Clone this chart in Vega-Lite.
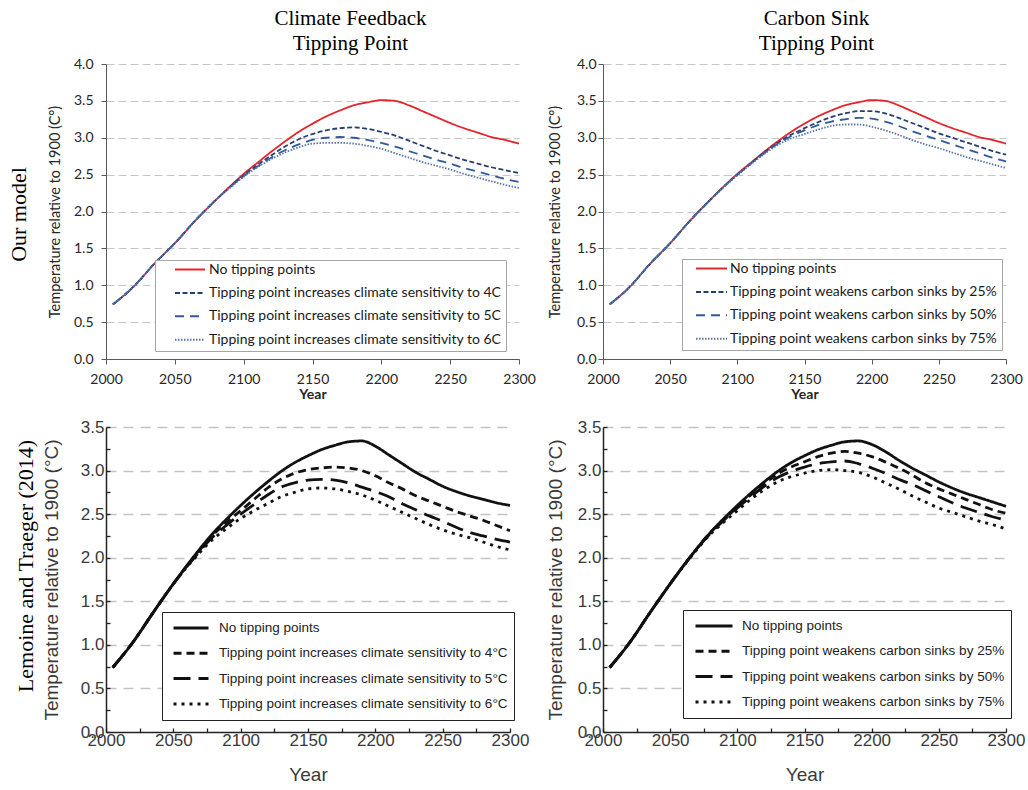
{
"$schema":"https://vega.github.io/schema/vega-lite/v6.json",
"background":"white",
"padding":{"left":8,"top":8,"right":0,"bottom":0},
"spacing":17,
"config":{"view":{"stroke":null}},
"resolve":{"scale":{"x":"independent","y":"independent","color":"independent","strokeDash":"independent"},"axis":{"x":"independent","y":"independent"},"legend":{"color":"independent","strokeDash":"independent"}},
"datasets":{
"names":[
{"s":"n","name":"No tipping points"},
{"s":"c4","name":"Tipping point increases climate sensitivity to 4C"},
{"s":"c5","name":"Tipping point increases climate sensitivity to 5C"},
{"s":"c6","name":"Tipping point increases climate sensitivity to 6C"},
{"s":"d4","name":"Tipping point increases climate sensitivity to 4°C"},
{"s":"d5","name":"Tipping point increases climate sensitivity to 5°C"},
{"s":"d6","name":"Tipping point increases climate sensitivity to 6°C"},
{"s":"k25","name":"Tipping point weakens carbon sinks by 25%"},
{"s":"k50","name":"Tipping point weakens carbon sinks by 50%"},
{"s":"k75","name":"Tipping point weakens carbon sinks by 75%"}
],
"tl":[
{"s":"n","x":2005,"y":0.74},{"s":"n","x":2020,"y":0.98},{"s":"n","x":2035,"y":1.29},{"s":"n","x":2050,"y":1.57},{"s":"n","x":2065,"y":1.88},{"s":"n","x":2080,"y":2.16},{"s":"n","x":2090,"y":2.34},{"s":"n","x":2100,"y":2.51},{"s":"n","x":2110,"y":2.66},{"s":"n","x":2120,"y":2.81},{"s":"n","x":2130,"y":2.95},{"s":"n","x":2140,"y":3.08},{"s":"n","x":2150,"y":3.19},{"s":"n","x":2160,"y":3.29},{"s":"n","x":2170,"y":3.37},{"s":"n","x":2180,"y":3.44},{"s":"n","x":2190,"y":3.48},{"s":"n","x":2200,"y":3.51},{"s":"n","x":2210,"y":3.5},{"s":"n","x":2220,"y":3.44},{"s":"n","x":2230,"y":3.36},{"s":"n","x":2240,"y":3.28},{"s":"n","x":2250,"y":3.2},{"s":"n","x":2260,"y":3.13},{"s":"n","x":2270,"y":3.07},{"s":"n","x":2280,"y":3.01},{"s":"n","x":2290,"y":2.97},{"s":"n","x":2300,"y":2.92},
{"s":"c4","x":2005,"y":0.74},{"s":"c4","x":2020,"y":0.98},{"s":"c4","x":2035,"y":1.29},{"s":"c4","x":2050,"y":1.57},{"s":"c4","x":2065,"y":1.88},{"s":"c4","x":2080,"y":2.16},{"s":"c4","x":2090,"y":2.33},{"s":"c4","x":2100,"y":2.49},{"s":"c4","x":2110,"y":2.63},{"s":"c4","x":2120,"y":2.76},{"s":"c4","x":2130,"y":2.88},{"s":"c4","x":2140,"y":2.98},{"s":"c4","x":2150,"y":3.05},{"s":"c4","x":2160,"y":3.1},{"s":"c4","x":2170,"y":3.13},{"s":"c4","x":2180,"y":3.14},{"s":"c4","x":2190,"y":3.12},{"s":"c4","x":2200,"y":3.08},{"s":"c4","x":2210,"y":3.03},{"s":"c4","x":2220,"y":2.96},{"s":"c4","x":2230,"y":2.89},{"s":"c4","x":2240,"y":2.82},{"s":"c4","x":2250,"y":2.76},{"s":"c4","x":2260,"y":2.7},{"s":"c4","x":2270,"y":2.65},{"s":"c4","x":2280,"y":2.6},{"s":"c4","x":2290,"y":2.56},{"s":"c4","x":2300,"y":2.52},
{"s":"c5","x":2005,"y":0.74},{"s":"c5","x":2020,"y":0.98},{"s":"c5","x":2035,"y":1.29},{"s":"c5","x":2050,"y":1.57},{"s":"c5","x":2065,"y":1.88},{"s":"c5","x":2080,"y":2.16},{"s":"c5","x":2090,"y":2.33},{"s":"c5","x":2100,"y":2.48},{"s":"c5","x":2110,"y":2.61},{"s":"c5","x":2120,"y":2.73},{"s":"c5","x":2130,"y":2.83},{"s":"c5","x":2140,"y":2.91},{"s":"c5","x":2150,"y":2.97},{"s":"c5","x":2160,"y":3.0},{"s":"c5","x":2170,"y":3.01},{"s":"c5","x":2180,"y":3.0},{"s":"c5","x":2190,"y":2.97},{"s":"c5","x":2200,"y":2.93},{"s":"c5","x":2210,"y":2.88},{"s":"c5","x":2220,"y":2.82},{"s":"c5","x":2230,"y":2.76},{"s":"c5","x":2240,"y":2.7},{"s":"c5","x":2250,"y":2.65},{"s":"c5","x":2260,"y":2.59},{"s":"c5","x":2270,"y":2.54},{"s":"c5","x":2280,"y":2.49},{"s":"c5","x":2290,"y":2.44},{"s":"c5","x":2300,"y":2.4},
{"s":"c6","x":2005,"y":0.74},{"s":"c6","x":2020,"y":0.98},{"s":"c6","x":2035,"y":1.29},{"s":"c6","x":2050,"y":1.57},{"s":"c6","x":2065,"y":1.88},{"s":"c6","x":2080,"y":2.16},{"s":"c6","x":2090,"y":2.32},{"s":"c6","x":2100,"y":2.47},{"s":"c6","x":2110,"y":2.6},{"s":"c6","x":2120,"y":2.71},{"s":"c6","x":2130,"y":2.8},{"s":"c6","x":2140,"y":2.87},{"s":"c6","x":2150,"y":2.92},{"s":"c6","x":2160,"y":2.93},{"s":"c6","x":2170,"y":2.93},{"s":"c6","x":2180,"y":2.92},{"s":"c6","x":2190,"y":2.89},{"s":"c6","x":2200,"y":2.85},{"s":"c6","x":2210,"y":2.79},{"s":"c6","x":2220,"y":2.73},{"s":"c6","x":2230,"y":2.67},{"s":"c6","x":2240,"y":2.62},{"s":"c6","x":2250,"y":2.57},{"s":"c6","x":2260,"y":2.51},{"s":"c6","x":2270,"y":2.46},{"s":"c6","x":2280,"y":2.41},{"s":"c6","x":2290,"y":2.36},{"s":"c6","x":2300,"y":2.32}
],
"tr":[
{"s":"n","x":2005,"y":0.74},{"s":"n","x":2020,"y":0.98},{"s":"n","x":2035,"y":1.29},{"s":"n","x":2050,"y":1.57},{"s":"n","x":2065,"y":1.88},{"s":"n","x":2080,"y":2.16},{"s":"n","x":2090,"y":2.34},{"s":"n","x":2100,"y":2.51},{"s":"n","x":2110,"y":2.66},{"s":"n","x":2120,"y":2.81},{"s":"n","x":2130,"y":2.95},{"s":"n","x":2140,"y":3.08},{"s":"n","x":2150,"y":3.19},{"s":"n","x":2160,"y":3.29},{"s":"n","x":2170,"y":3.37},{"s":"n","x":2180,"y":3.44},{"s":"n","x":2190,"y":3.48},{"s":"n","x":2200,"y":3.51},{"s":"n","x":2210,"y":3.5},{"s":"n","x":2220,"y":3.44},{"s":"n","x":2230,"y":3.36},{"s":"n","x":2240,"y":3.28},{"s":"n","x":2250,"y":3.2},{"s":"n","x":2260,"y":3.13},{"s":"n","x":2270,"y":3.07},{"s":"n","x":2280,"y":3.01},{"s":"n","x":2290,"y":2.97},{"s":"n","x":2300,"y":2.92},
{"s":"k25","x":2005,"y":0.74},{"s":"k25","x":2020,"y":0.98},{"s":"k25","x":2035,"y":1.29},{"s":"k25","x":2050,"y":1.57},{"s":"k25","x":2065,"y":1.88},{"s":"k25","x":2080,"y":2.16},{"s":"k25","x":2090,"y":2.34},{"s":"k25","x":2100,"y":2.5},{"s":"k25","x":2110,"y":2.65},{"s":"k25","x":2120,"y":2.8},{"s":"k25","x":2130,"y":2.93},{"s":"k25","x":2140,"y":3.04},{"s":"k25","x":2150,"y":3.13},{"s":"k25","x":2160,"y":3.21},{"s":"k25","x":2170,"y":3.28},{"s":"k25","x":2180,"y":3.33},{"s":"k25","x":2190,"y":3.36},{"s":"k25","x":2200,"y":3.36},{"s":"k25","x":2210,"y":3.33},{"s":"k25","x":2220,"y":3.27},{"s":"k25","x":2230,"y":3.2},{"s":"k25","x":2240,"y":3.13},{"s":"k25","x":2250,"y":3.06},{"s":"k25","x":2260,"y":3.0},{"s":"k25","x":2270,"y":2.94},{"s":"k25","x":2280,"y":2.88},{"s":"k25","x":2290,"y":2.82},{"s":"k25","x":2300,"y":2.77},
{"s":"k50","x":2005,"y":0.74},{"s":"k50","x":2020,"y":0.98},{"s":"k50","x":2035,"y":1.29},{"s":"k50","x":2050,"y":1.57},{"s":"k50","x":2065,"y":1.88},{"s":"k50","x":2080,"y":2.16},{"s":"k50","x":2090,"y":2.34},{"s":"k50","x":2100,"y":2.5},{"s":"k50","x":2110,"y":2.65},{"s":"k50","x":2120,"y":2.79},{"s":"k50","x":2130,"y":2.92},{"s":"k50","x":2140,"y":3.02},{"s":"k50","x":2150,"y":3.1},{"s":"k50","x":2160,"y":3.17},{"s":"k50","x":2170,"y":3.22},{"s":"k50","x":2180,"y":3.25},{"s":"k50","x":2190,"y":3.27},{"s":"k50","x":2200,"y":3.26},{"s":"k50","x":2210,"y":3.22},{"s":"k50","x":2220,"y":3.16},{"s":"k50","x":2230,"y":3.09},{"s":"k50","x":2240,"y":3.03},{"s":"k50","x":2250,"y":2.97},{"s":"k50","x":2260,"y":2.91},{"s":"k50","x":2270,"y":2.85},{"s":"k50","x":2280,"y":2.79},{"s":"k50","x":2290,"y":2.73},{"s":"k50","x":2300,"y":2.68},
{"s":"k75","x":2005,"y":0.74},{"s":"k75","x":2020,"y":0.98},{"s":"k75","x":2035,"y":1.29},{"s":"k75","x":2050,"y":1.57},{"s":"k75","x":2065,"y":1.88},{"s":"k75","x":2080,"y":2.16},{"s":"k75","x":2090,"y":2.33},{"s":"k75","x":2100,"y":2.49},{"s":"k75","x":2110,"y":2.64},{"s":"k75","x":2120,"y":2.78},{"s":"k75","x":2130,"y":2.9},{"s":"k75","x":2140,"y":2.99},{"s":"k75","x":2150,"y":3.05},{"s":"k75","x":2160,"y":3.11},{"s":"k75","x":2170,"y":3.16},{"s":"k75","x":2180,"y":3.18},{"s":"k75","x":2190,"y":3.18},{"s":"k75","x":2200,"y":3.15},{"s":"k75","x":2210,"y":3.1},{"s":"k75","x":2220,"y":3.04},{"s":"k75","x":2230,"y":2.97},{"s":"k75","x":2240,"y":2.91},{"s":"k75","x":2250,"y":2.86},{"s":"k75","x":2260,"y":2.8},{"s":"k75","x":2270,"y":2.74},{"s":"k75","x":2280,"y":2.69},{"s":"k75","x":2290,"y":2.64},{"s":"k75","x":2300,"y":2.59}
],
"bl":[
{"s":"n","x":2005,"y":0.74},{"s":"n","x":2020,"y":1.03},{"s":"n","x":2035,"y":1.37},{"s":"n","x":2050,"y":1.7},{"s":"n","x":2065,"y":2.01},{"s":"n","x":2080,"y":2.29},{"s":"n","x":2090,"y":2.45},{"s":"n","x":2100,"y":2.6},{"s":"n","x":2110,"y":2.74},{"s":"n","x":2120,"y":2.87},{"s":"n","x":2130,"y":2.99},{"s":"n","x":2140,"y":3.09},{"s":"n","x":2150,"y":3.17},{"s":"n","x":2160,"y":3.24},{"s":"n","x":2170,"y":3.29},{"s":"n","x":2180,"y":3.33},{"s":"n","x":2190,"y":3.34},{"s":"n","x":2200,"y":3.28},{"s":"n","x":2210,"y":3.18},{"s":"n","x":2220,"y":3.08},{"s":"n","x":2230,"y":2.98},{"s":"n","x":2240,"y":2.9},{"s":"n","x":2250,"y":2.82},{"s":"n","x":2260,"y":2.76},{"s":"n","x":2270,"y":2.71},{"s":"n","x":2280,"y":2.67},{"s":"n","x":2290,"y":2.63},{"s":"n","x":2300,"y":2.6},
{"s":"d4","x":2005,"y":0.74},{"s":"d4","x":2020,"y":1.03},{"s":"d4","x":2035,"y":1.37},{"s":"d4","x":2050,"y":1.7},{"s":"d4","x":2065,"y":2.0},{"s":"d4","x":2080,"y":2.27},{"s":"d4","x":2090,"y":2.41},{"s":"d4","x":2100,"y":2.54},{"s":"d4","x":2110,"y":2.67},{"s":"d4","x":2120,"y":2.8},{"s":"d4","x":2130,"y":2.9},{"s":"d4","x":2140,"y":2.97},{"s":"d4","x":2150,"y":3.01},{"s":"d4","x":2160,"y":3.03},{"s":"d4","x":2170,"y":3.04},{"s":"d4","x":2180,"y":3.03},{"s":"d4","x":2190,"y":3.0},{"s":"d4","x":2200,"y":2.94},{"s":"d4","x":2210,"y":2.86},{"s":"d4","x":2220,"y":2.79},{"s":"d4","x":2230,"y":2.71},{"s":"d4","x":2240,"y":2.65},{"s":"d4","x":2250,"y":2.59},{"s":"d4","x":2260,"y":2.53},{"s":"d4","x":2270,"y":2.48},{"s":"d4","x":2280,"y":2.43},{"s":"d4","x":2290,"y":2.37},{"s":"d4","x":2300,"y":2.31},
{"s":"d5","x":2005,"y":0.74},{"s":"d5","x":2020,"y":1.03},{"s":"d5","x":2035,"y":1.37},{"s":"d5","x":2050,"y":1.7},{"s":"d5","x":2065,"y":1.99},{"s":"d5","x":2080,"y":2.25},{"s":"d5","x":2090,"y":2.38},{"s":"d5","x":2100,"y":2.5},{"s":"d5","x":2110,"y":2.61},{"s":"d5","x":2120,"y":2.72},{"s":"d5","x":2130,"y":2.81},{"s":"d5","x":2140,"y":2.86},{"s":"d5","x":2150,"y":2.89},{"s":"d5","x":2160,"y":2.9},{"s":"d5","x":2170,"y":2.89},{"s":"d5","x":2180,"y":2.86},{"s":"d5","x":2190,"y":2.81},{"s":"d5","x":2200,"y":2.76},{"s":"d5","x":2210,"y":2.7},{"s":"d5","x":2220,"y":2.62},{"s":"d5","x":2230,"y":2.55},{"s":"d5","x":2240,"y":2.48},{"s":"d5","x":2250,"y":2.42},{"s":"d5","x":2260,"y":2.35},{"s":"d5","x":2270,"y":2.29},{"s":"d5","x":2280,"y":2.25},{"s":"d5","x":2290,"y":2.21},{"s":"d5","x":2300,"y":2.18},
{"s":"d6","x":2005,"y":0.74},{"s":"d6","x":2020,"y":1.03},{"s":"d6","x":2035,"y":1.37},{"s":"d6","x":2050,"y":1.7},{"s":"d6","x":2065,"y":1.98},{"s":"d6","x":2080,"y":2.22},{"s":"d6","x":2090,"y":2.34},{"s":"d6","x":2100,"y":2.45},{"s":"d6","x":2110,"y":2.54},{"s":"d6","x":2120,"y":2.62},{"s":"d6","x":2130,"y":2.7},{"s":"d6","x":2140,"y":2.75},{"s":"d6","x":2150,"y":2.79},{"s":"d6","x":2160,"y":2.8},{"s":"d6","x":2170,"y":2.79},{"s":"d6","x":2180,"y":2.76},{"s":"d6","x":2190,"y":2.72},{"s":"d6","x":2200,"y":2.66},{"s":"d6","x":2210,"y":2.59},{"s":"d6","x":2220,"y":2.52},{"s":"d6","x":2230,"y":2.45},{"s":"d6","x":2240,"y":2.38},{"s":"d6","x":2250,"y":2.32},{"s":"d6","x":2260,"y":2.27},{"s":"d6","x":2270,"y":2.23},{"s":"d6","x":2280,"y":2.18},{"s":"d6","x":2290,"y":2.13},{"s":"d6","x":2300,"y":2.09}
],
"br":[
{"s":"n","x":2005,"y":0.74},{"s":"n","x":2020,"y":1.03},{"s":"n","x":2035,"y":1.37},{"s":"n","x":2050,"y":1.7},{"s":"n","x":2065,"y":2.01},{"s":"n","x":2080,"y":2.29},{"s":"n","x":2090,"y":2.45},{"s":"n","x":2100,"y":2.6},{"s":"n","x":2110,"y":2.74},{"s":"n","x":2120,"y":2.87},{"s":"n","x":2130,"y":2.99},{"s":"n","x":2140,"y":3.09},{"s":"n","x":2150,"y":3.17},{"s":"n","x":2160,"y":3.24},{"s":"n","x":2170,"y":3.29},{"s":"n","x":2180,"y":3.33},{"s":"n","x":2190,"y":3.34},{"s":"n","x":2200,"y":3.3},{"s":"n","x":2210,"y":3.22},{"s":"n","x":2220,"y":3.12},{"s":"n","x":2230,"y":3.03},{"s":"n","x":2240,"y":2.95},{"s":"n","x":2250,"y":2.87},{"s":"n","x":2260,"y":2.8},{"s":"n","x":2270,"y":2.74},{"s":"n","x":2280,"y":2.69},{"s":"n","x":2290,"y":2.64},{"s":"n","x":2300,"y":2.59},
{"s":"k25","x":2005,"y":0.74},{"s":"k25","x":2020,"y":1.03},{"s":"k25","x":2035,"y":1.37},{"s":"k25","x":2050,"y":1.7},{"s":"k25","x":2065,"y":2.01},{"s":"k25","x":2080,"y":2.29},{"s":"k25","x":2090,"y":2.44},{"s":"k25","x":2100,"y":2.58},{"s":"k25","x":2110,"y":2.72},{"s":"k25","x":2120,"y":2.85},{"s":"k25","x":2130,"y":2.96},{"s":"k25","x":2140,"y":3.04},{"s":"k25","x":2150,"y":3.1},{"s":"k25","x":2160,"y":3.16},{"s":"k25","x":2170,"y":3.2},{"s":"k25","x":2180,"y":3.22},{"s":"k25","x":2190,"y":3.2},{"s":"k25","x":2200,"y":3.16},{"s":"k25","x":2210,"y":3.1},{"s":"k25","x":2220,"y":3.03},{"s":"k25","x":2230,"y":2.95},{"s":"k25","x":2240,"y":2.86},{"s":"k25","x":2250,"y":2.79},{"s":"k25","x":2260,"y":2.73},{"s":"k25","x":2270,"y":2.67},{"s":"k25","x":2280,"y":2.61},{"s":"k25","x":2290,"y":2.55},{"s":"k25","x":2300,"y":2.51},
{"s":"k50","x":2005,"y":0.74},{"s":"k50","x":2020,"y":1.03},{"s":"k50","x":2035,"y":1.37},{"s":"k50","x":2050,"y":1.7},{"s":"k50","x":2065,"y":2.01},{"s":"k50","x":2080,"y":2.28},{"s":"k50","x":2090,"y":2.43},{"s":"k50","x":2100,"y":2.57},{"s":"k50","x":2110,"y":2.7},{"s":"k50","x":2120,"y":2.82},{"s":"k50","x":2130,"y":2.92},{"s":"k50","x":2140,"y":2.99},{"s":"k50","x":2150,"y":3.04},{"s":"k50","x":2160,"y":3.08},{"s":"k50","x":2170,"y":3.1},{"s":"k50","x":2180,"y":3.11},{"s":"k50","x":2190,"y":3.08},{"s":"k50","x":2200,"y":3.03},{"s":"k50","x":2210,"y":2.97},{"s":"k50","x":2220,"y":2.9},{"s":"k50","x":2230,"y":2.84},{"s":"k50","x":2240,"y":2.77},{"s":"k50","x":2250,"y":2.7},{"s":"k50","x":2260,"y":2.63},{"s":"k50","x":2270,"y":2.57},{"s":"k50","x":2280,"y":2.52},{"s":"k50","x":2290,"y":2.47},{"s":"k50","x":2300,"y":2.43},
{"s":"k75","x":2005,"y":0.74},{"s":"k75","x":2020,"y":1.03},{"s":"k75","x":2035,"y":1.37},{"s":"k75","x":2050,"y":1.7},{"s":"k75","x":2065,"y":2.0},{"s":"k75","x":2080,"y":2.27},{"s":"k75","x":2090,"y":2.41},{"s":"k75","x":2100,"y":2.54},{"s":"k75","x":2110,"y":2.67},{"s":"k75","x":2120,"y":2.78},{"s":"k75","x":2130,"y":2.87},{"s":"k75","x":2140,"y":2.93},{"s":"k75","x":2150,"y":2.97},{"s":"k75","x":2160,"y":3.0},{"s":"k75","x":2170,"y":3.01},{"s":"k75","x":2180,"y":3.0},{"s":"k75","x":2190,"y":2.98},{"s":"k75","x":2200,"y":2.93},{"s":"k75","x":2210,"y":2.86},{"s":"k75","x":2220,"y":2.79},{"s":"k75","x":2230,"y":2.71},{"s":"k75","x":2240,"y":2.64},{"s":"k75","x":2250,"y":2.57},{"s":"k75","x":2260,"y":2.52},{"s":"k75","x":2270,"y":2.47},{"s":"k75","x":2280,"y":2.42},{"s":"k75","x":2290,"y":2.38},{"s":"k75","x":2300,"y":2.33}
]
},
"vconcat":[
{
"spacing":11,
"title":{"text":"Our model","orient":"left","anchor":"middle","frame":"bounds","font":"Liberation Serif","fontSize":22,"fontWeight":"normal","color":"#000","offset":16,"dx":-10},
"resolve":{"scale":{"x":"independent","y":"independent","color":"independent","strokeDash":"independent"},"axis":{"x":"independent","y":"independent"},"legend":{"color":"independent","strokeDash":"independent"}},
"hconcat":[
{
"width":413,"height":295,
"data":{"name":"tl"},
"transform":[{"lookup":"s","from":{"data":{"name":"names"},"key":"s","fields":["name"]}}],
"title":{"text":["Climate Feedback","Tipping Point"],"font":"Liberation Serif","fontSize":21,"fontWeight":"normal","color":"#000","anchor":"middle","frame":"group","dx":38,"offset":3,"lineHeight":25},
"mark":{"type":"line","interpolate":"monotone","strokeWidth":1.8},
"encoding":{
"x":{"field":"x","type":"quantitative","scale":{"domain":[2000,2300],"nice":false,"zero":false},"axis":{"title":"Year","values":[2000,2050,2100,2150,2200,2250,2300],"format":"d","grid":false,"domainColor":"#595959","tickColor":"#595959","tickSize":5,"labelPadding":8,"labelFont":"Lato","labelFontSize":14,"labelColor":"#262626","labelFlush":false,"labelOverlap":false,"titleFont":"Lato","titleFontSize":14,"titleFontWeight":"bold","titleColor":"#262626","titlePadding":1}},
"y":{"field":"y","type":"quantitative","scale":{"domain":[0,4],"nice":false},"axis":{"title":"Temperature relative to 1900 (C°)","values":[0,0.5,1,1.5,2,2.5,3,3.5,4],"format":".1f","grid":true,"gridColor":"#c6c6c6","gridDash":[8,4],"domainColor":"#595959","tickColor":"#595959","tickSize":5,"labelPadding":8,"labelFont":"Lato","labelFontSize":14,"labelColor":"#262626","titleFont":"Lato","titleFontSize":14.5,"titleFontWeight":"normal","titleColor":"#262626","titlePadding":11}},
"color":{"field":"name","type":"nominal","scale":{"domain":["No tipping points","Tipping point increases climate sensitivity to 4C","Tipping point increases climate sensitivity to 5C","Tipping point increases climate sensitivity to 6C"],"range":["#e3242b","#263f73","#2f5b9a","#5574ab"]},"legend":{"title":null,"orient":"none","legendX":49,"legendY":196,"symbolType":"stroke","symbolSize":900,"symbolStrokeWidth":2,"symbolOffset":15,"labelOffset":3,"labelFont":"Lato","labelFontSize":14,"labelColor":"#1a1a1a","padding":4,"clipHeight":11,"rowPadding":8.4,"strokeColor":"#a6a6a6","fillColor":"white","labelLimit":400}},
"strokeDash":{"field":"name","type":"nominal","scale":{"domain":["No tipping points","Tipping point increases climate sensitivity to 4C","Tipping point increases climate sensitivity to 5C","Tipping point increases climate sensitivity to 6C"],"range":[[1,0],[5,2.5],[9,6],[1.5,1.5]]},"legend":{"title":null,"orient":"none","legendX":49,"legendY":196,"symbolType":"stroke","symbolSize":900,"symbolStrokeWidth":2,"symbolOffset":15,"labelOffset":3,"labelFont":"Lato","labelFontSize":14,"labelColor":"#1a1a1a","padding":4,"clipHeight":11,"rowPadding":8.4,"strokeColor":"#a6a6a6","fillColor":"white","labelLimit":400}}
}
},
{
"width":403,"height":295,
"data":{"name":"tr"},
"transform":[{"lookup":"s","from":{"data":{"name":"names"},"key":"s","fields":["name"]}}],
"title":{"text":["Carbon Sink","Tipping Point"],"font":"Liberation Serif","fontSize":21,"fontWeight":"normal","color":"#000","anchor":"middle","frame":"group","dx":12,"offset":3,"lineHeight":25},
"mark":{"type":"line","interpolate":"monotone","strokeWidth":1.8},
"encoding":{
"x":{"field":"x","type":"quantitative","scale":{"domain":[2000,2300],"nice":false,"zero":false},"axis":{"title":"Year","values":[2000,2050,2100,2150,2200,2250,2300],"format":"d","grid":false,"domainColor":"#595959","tickColor":"#595959","tickSize":5,"labelPadding":8,"labelFont":"Lato","labelFontSize":14,"labelColor":"#262626","labelFlush":false,"labelOverlap":false,"titleFont":"Lato","titleFontSize":14,"titleFontWeight":"bold","titleColor":"#262626","titlePadding":1}},
"y":{"field":"y","type":"quantitative","scale":{"domain":[0,4],"nice":false},"axis":{"title":"Temperature relative to 1900 (C°)","values":[0,0.5,1,1.5,2,2.5,3,3.5,4],"format":".1f","grid":true,"gridColor":"#c6c6c6","gridDash":[8,4],"domainColor":"#595959","tickColor":"#595959","tickSize":5,"labelPadding":2,"labelFont":"Lato","labelFontSize":14,"labelColor":"#262626","titleFont":"Lato","titleFontSize":14.5,"titleFontWeight":"normal","titleColor":"#262626","titlePadding":14}},
"color":{"field":"name","type":"nominal","scale":{"domain":["No tipping points","Tipping point weakens carbon sinks by 25%","Tipping point weakens carbon sinks by 50%","Tipping point weakens carbon sinks by 75%"],"range":["#e3242b","#263f73","#2f5b9a","#5574ab"]},"legend":{"title":null,"orient":"none","legendX":79,"legendY":195,"symbolType":"stroke","symbolSize":961,"symbolStrokeWidth":2,"symbolOffset":9,"labelOffset":2,"labelFont":"Lato","labelFontSize":14,"labelColor":"#1a1a1a","padding":4,"clipHeight":11,"rowPadding":8.4,"strokeColor":"#a6a6a6","fillColor":"white","labelLimit":400}},
"strokeDash":{"field":"name","type":"nominal","scale":{"domain":["No tipping points","Tipping point weakens carbon sinks by 25%","Tipping point weakens carbon sinks by 50%","Tipping point weakens carbon sinks by 75%"],"range":[[1,0],[5,2.5],[9,6],[1.5,1.5]]},"legend":{"title":null,"orient":"none","legendX":79,"legendY":195,"symbolType":"stroke","symbolSize":961,"symbolStrokeWidth":2,"symbolOffset":9,"labelOffset":2,"labelFont":"Lato","labelFontSize":14,"labelColor":"#1a1a1a","padding":4,"clipHeight":11,"rowPadding":8.4,"strokeColor":"#a6a6a6","fillColor":"white","labelLimit":400}}
}
}
]
},
{
"spacing":17,
"title":{"text":"Lemoine and Traeger (2014)","orient":"left","anchor":"middle","frame":"bounds","font":"Liberation Serif","fontSize":22,"fontWeight":"normal","color":"#000","offset":4,"dx":35},
"resolve":{"scale":{"x":"independent","y":"independent","color":"independent","strokeDash":"independent"},"axis":{"x":"independent","y":"independent"},"legend":{"color":"independent","strokeDash":"independent"}},
"hconcat":[
{
"width":404,"height":305,
"data":{"name":"bl"},
"transform":[{"lookup":"s","from":{"data":{"name":"names"},"key":"s","fields":["name"]}}],
"mark":{"type":"line","interpolate":"monotone","strokeWidth":2.8},
"encoding":{
"x":{"field":"x","type":"quantitative","scale":{"domain":[2000,2300],"nice":false,"zero":false},"axis":{"title":"Year","values":[2000,2025,2050,2075,2100,2125,2150,2175,2200,2225,2250,2275,2300],"format":"d","labelExpr":"datum.value % 50 == 0 ? datum.label : ''","grid":false,"domainColor":"#222","domainWidth":1.5,"tickColor":"#222","tickWidth":1.3,"tickSize":-4,"labelPadding":4,"labelFont":"Liberation Sans","labelFontSize":17,"labelColor":"#3a3a3a","labelFlush":false,"labelOverlap":false,"titleFont":"Liberation Sans","titleFontSize":19,"titleFontWeight":"normal","titleColor":"#3a3a3a","titlePadding":17}},
"y":{"field":"y","type":"quantitative","scale":{"domain":[0,3.5],"nice":false},"axis":{"title":"Temperature relative to 1900 (°C)","values":[0,0.25,0.5,0.75,1,1.25,1.5,1.75,2,2.25,2.5,2.75,3,3.25,3.5],"labelExpr":"datum.value % 0.5 == 0 ? format(datum.value, '.1f') : ''","grid":true,"gridColor":"#c4c4c4","gridWidth":1.5,"gridDash":[10,7],"gridOpacity":{"condition":{"test":"datum.value % 0.5 == 0 && datum.value > 0","value":1},"value":0},"domainColor":"#222","domainWidth":1.5,"tickColor":"#222","tickWidth":1.3,"tickSize":-4,"labelPadding":6,"labelFont":"Liberation Sans","labelFontSize":17,"labelColor":"#3a3a3a","titleFont":"Liberation Sans","titleFontSize":19,"titleFontWeight":"normal","titleColor":"#3a3a3a","titlePadding":19}},
"color":{"field":"name","type":"nominal","scale":{"domain":["No tipping points","Tipping point increases climate sensitivity to 4°C","Tipping point increases climate sensitivity to 5°C","Tipping point increases climate sensitivity to 6°C"],"range":["#111","#111","#111","#111"]},"legend":{"title":null,"orient":"none","legendX":56,"legendY":185,"symbolType":"stroke","symbolSize":1225,"symbolStrokeWidth":3,"symbolOffset":4,"labelOffset":9,"labelFont":"Liberation Sans","labelFontSize":13.5,"labelColor":"#222","padding":6,"clipHeight":20,"rowPadding":5.3,"strokeColor":"#222","fillColor":"white","labelLimit":400}},
"strokeDash":{"field":"name","type":"nominal","scale":{"domain":["No tipping points","Tipping point increases climate sensitivity to 4°C","Tipping point increases climate sensitivity to 5°C","Tipping point increases climate sensitivity to 6°C"],"range":[[1,0],[8,5],[17,8],[3,5]]},"legend":{"title":null,"orient":"none","legendX":56,"legendY":185,"symbolType":"stroke","symbolSize":1225,"symbolStrokeWidth":3,"symbolOffset":4,"labelOffset":9,"labelFont":"Liberation Sans","labelFontSize":13.5,"labelColor":"#222","padding":6,"clipHeight":20,"rowPadding":5.3,"strokeColor":"#222","fillColor":"white","labelLimit":400}}
}
},
{
"width":403,"height":305,
"data":{"name":"br"},
"transform":[{"lookup":"s","from":{"data":{"name":"names"},"key":"s","fields":["name"]}}],
"mark":{"type":"line","interpolate":"monotone","strokeWidth":2.8},
"encoding":{
"x":{"field":"x","type":"quantitative","scale":{"domain":[2000,2300],"nice":false,"zero":false},"axis":{"title":"Year","values":[2000,2025,2050,2075,2100,2125,2150,2175,2200,2225,2250,2275,2300],"format":"d","labelExpr":"datum.value % 50 == 0 ? datum.label : ''","grid":false,"domainColor":"#222","domainWidth":1.5,"tickColor":"#222","tickWidth":1.3,"tickSize":-4,"labelPadding":4,"labelFont":"Liberation Sans","labelFontSize":17,"labelColor":"#3a3a3a","labelFlush":false,"labelOverlap":false,"titleFont":"Liberation Sans","titleFontSize":19,"titleFontWeight":"normal","titleColor":"#3a3a3a","titlePadding":17}},
"y":{"field":"y","type":"quantitative","scale":{"domain":[0,3.5],"nice":false},"axis":{"title":"Temperature relative to 1900 (°C)","values":[0,0.25,0.5,0.75,1,1.25,1.5,1.75,2,2.25,2.5,2.75,3,3.25,3.5],"labelExpr":"datum.value % 0.5 == 0 ? format(datum.value, '.1f') : ''","grid":true,"gridColor":"#c4c4c4","gridWidth":1.5,"gridDash":[10,7],"gridOpacity":{"condition":{"test":"datum.value % 0.5 == 0 && datum.value > 0","value":1},"value":0},"domainColor":"#222","domainWidth":1.5,"tickColor":"#222","tickWidth":1.3,"tickSize":-4,"labelPadding":6,"labelFont":"Liberation Sans","labelFontSize":17,"labelColor":"#3a3a3a","titleFont":"Liberation Sans","titleFontSize":19,"titleFontWeight":"normal","titleColor":"#3a3a3a","titlePadding":12}},
"color":{"field":"name","type":"nominal","scale":{"domain":["No tipping points","Tipping point weakens carbon sinks by 25%","Tipping point weakens carbon sinks by 50%","Tipping point weakens carbon sinks by 75%"],"range":["#111","#111","#111","#111"]},"legend":{"title":null,"orient":"none","legendX":80,"legendY":183,"symbolType":"stroke","symbolSize":1369,"symbolStrokeWidth":3,"symbolOffset":5,"labelOffset":8,"labelFont":"Liberation Sans","labelFontSize":13.5,"labelColor":"#222","padding":6,"clipHeight":20,"rowPadding":5.3,"strokeColor":"#222","fillColor":"white","labelLimit":400}},
"strokeDash":{"field":"name","type":"nominal","scale":{"domain":["No tipping points","Tipping point weakens carbon sinks by 25%","Tipping point weakens carbon sinks by 50%","Tipping point weakens carbon sinks by 75%"],"range":[[1,0],[8,5],[17,8],[3,5]]},"legend":{"title":null,"orient":"none","legendX":80,"legendY":183,"symbolType":"stroke","symbolSize":1369,"symbolStrokeWidth":3,"symbolOffset":5,"labelOffset":8,"labelFont":"Liberation Sans","labelFontSize":13.5,"labelColor":"#222","padding":6,"clipHeight":20,"rowPadding":5.3,"strokeColor":"#222","fillColor":"white","labelLimit":400}}
}
}
]
}
]
}
